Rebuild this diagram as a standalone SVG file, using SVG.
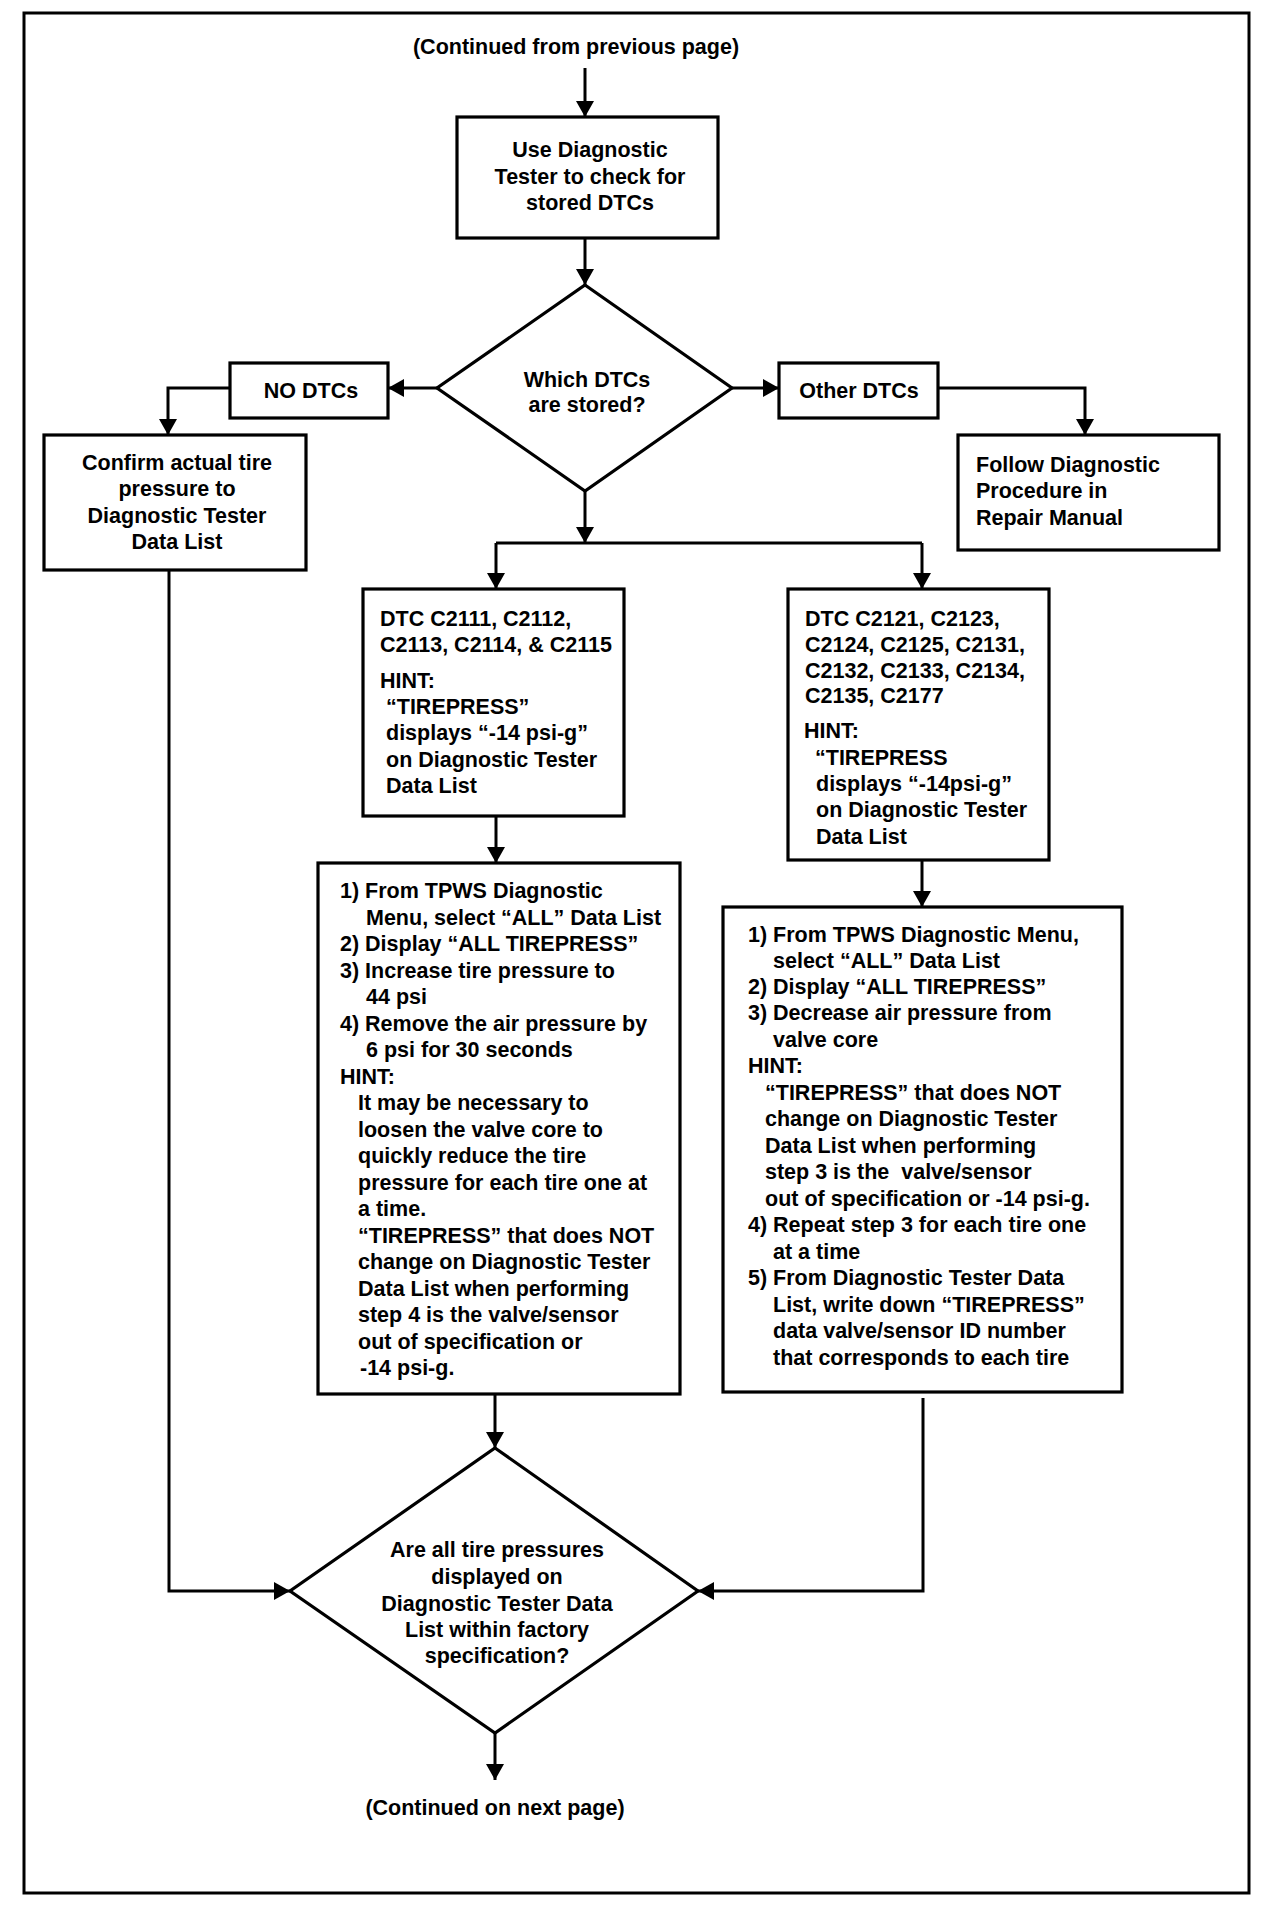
<svg xmlns="http://www.w3.org/2000/svg" width="1280" height="1928" viewBox="0 0 1280 1928">
<style>
.t{font-family:"Liberation Sans",Arial,Helvetica,sans-serif;font-weight:bold;font-size:21.5px;fill:#000}
.c{text-anchor:middle}
.box{fill:#fff;stroke:#000;stroke-width:3.2}
.ln{fill:none;stroke:#000;stroke-width:3}
.ar{fill:none;stroke:#000;stroke-width:3;marker-end:url(#ah)}
</style>
<defs>
<marker id="ah" markerUnits="userSpaceOnUse" markerWidth="16" markerHeight="18" viewBox="0 0 16 18" refX="16" refY="9" orient="auto">
<path d="M0,0 L16,9 L0,18 z" fill="#000"/>
</marker>
</defs>
<rect x="0" y="0" width="1280" height="1928" fill="#fff"/>
<rect id="frame" x="24" y="13" width="1225" height="1880" fill="none" stroke="#000" stroke-width="3"/>

<g id="connectors">
<path class="ar" d="M585,68 L585,117"/>
<path class="ar" d="M585,238 L585,285"/>
<path class="ar" d="M437,388 L388,388"/>
<path class="ar" d="M230,388 L168,388 L168,435"/>
<path class="ar" d="M732,388 L779,388"/>
<path class="ar" d="M938,388 L1085,388 L1085,435"/>
<path class="ar" d="M585,491 L585,543"/>
<path class="ln" d="M496,543 L922,543"/>
<path class="ar" d="M496,543 L496,589"/>
<path class="ar" d="M922,543 L922,589"/>
<path class="ar" d="M496,816 L496,863"/>
<path class="ar" d="M922,860 L922,907"/>
<path class="ar" d="M495,1394 L495,1448"/>
<path class="ar" d="M169,570 L169,1591 L290,1591"/>
<path class="ar" d="M923,1398 L923,1591 L698,1591"/>
<path class="ar" d="M495,1733 L495,1780"/>
</g>

<g id="start">
<text class="t c" x="576" y="54">(Continued from previous page)</text>
</g>

<g id="check">
<rect class="box" x="457" y="117" width="261" height="121"/>
<text class="t c" x="590" y="157">Use Diagnostic</text>
<text class="t c" x="590" y="184">Tester to check for</text>
<text class="t c" x="590" y="210">stored DTCs</text>
</g>

<g id="which">
<polygon class="box" points="585,285 732,388 585,491 437,388"/>
<text class="t c" x="587" y="387">Which DTCs</text>
<text class="t c" x="587" y="412">are stored?</text>
</g>

<g id="nodtc">
<rect class="box" x="230" y="363" width="158" height="55"/>
<text class="t c" x="311" y="398">NO DTCs</text>
</g>

<g id="otherdtc">
<rect class="box" x="779" y="363" width="159" height="55"/>
<text class="t c" x="859" y="398">Other DTCs</text>
</g>

<g id="confirm">
<rect class="box" x="44" y="435" width="262" height="135"/>
<text class="t c" x="177" y="470">Confirm actual tire</text>
<text class="t c" x="177" y="496">pressure to</text>
<text class="t c" x="177" y="523">Diagnostic Tester</text>
<text class="t c" x="177" y="549">Data List</text>
</g>

<g id="follow">
<rect class="box" x="958" y="435" width="261" height="115"/>
<text class="t" x="976" y="472">Follow Diagnostic</text>
<text class="t" x="976" y="498">Procedure in</text>
<text class="t" x="976" y="525">Repair Manual</text>
</g>

<g id="dtc1">
<rect class="box" x="363" y="589" width="261" height="227"/>
<text class="t" x="380" y="626">DTC C2111, C2112,</text>
<text class="t" x="380" y="652">C2113, C2114, &amp; C2115</text>
<text class="t" x="380" y="688">HINT:</text>
<text class="t" x="386" y="714">“TIREPRESS”</text>
<text class="t" x="386" y="740">displays “-14 psi-g”</text>
<text class="t" x="386" y="767">on Diagnostic Tester</text>
<text class="t" x="386" y="793">Data List</text>
</g>

<g id="dtc2">
<rect class="box" x="788" y="589" width="261" height="271"/>
<text class="t" x="805" y="626">DTC C2121, C2123,</text>
<text class="t" x="805" y="652">C2124, C2125, C2131,</text>
<text class="t" x="805" y="678">C2132, C2133, C2134,</text>
<text class="t" x="805" y="703">C2135, C2177</text>
<text class="t" x="804" y="738">HINT:</text>
<text class="t" x="815" y="765">“TIREPRESS</text>
<text class="t" x="816" y="791">displays “-14psi-g”</text>
<text class="t" x="816" y="817">on Diagnostic Tester</text>
<text class="t" x="816" y="844">Data List</text>
</g>

<g id="steps1">
<rect class="box" x="318" y="863" width="362" height="531"/>
<text class="t" x="340" y="898">1) From TPWS Diagnostic</text>
<text class="t" x="366" y="925">Menu, select “ALL” Data List</text>
<text class="t" x="340" y="951">2) Display “ALL TIREPRESS”</text>
<text class="t" x="340" y="978">3) Increase tire pressure to</text>
<text class="t" x="366" y="1004">44 psi</text>
<text class="t" x="340" y="1031">4) Remove the air pressure by</text>
<text class="t" x="366" y="1057">6 psi for 30 seconds</text>
<text class="t" x="340" y="1084">HINT:</text>
<text class="t" x="358" y="1110">It may be necessary to</text>
<text class="t" x="358" y="1137">loosen the valve core to</text>
<text class="t" x="358" y="1163">quickly reduce the tire</text>
<text class="t" x="358" y="1190">pressure for each tire one at</text>
<text class="t" x="358" y="1216">a time.</text>
<text class="t" x="358" y="1243">“TIREPRESS” that does NOT</text>
<text class="t" x="358" y="1269">change on Diagnostic Tester</text>
<text class="t" x="358" y="1296">Data List when performing</text>
<text class="t" x="358" y="1322">step 4 is the valve/sensor</text>
<text class="t" x="358" y="1349">out of specification or</text>
<text class="t" x="360" y="1375">-14 psi-g.</text>
</g>

<g id="steps2">
<rect class="box" x="723" y="907" width="399" height="485"/>
<text class="t" x="748" y="942">1) From TPWS Diagnostic Menu,</text>
<text class="t" x="773" y="968">select “ALL” Data List</text>
<text class="t" x="748" y="994">2) Display “ALL TIREPRESS”</text>
<text class="t" x="748" y="1020">3) Decrease air pressure from</text>
<text class="t" x="773" y="1047">valve core</text>
<text class="t" x="748" y="1073">HINT:</text>
<text class="t" x="765" y="1100">“TIREPRESS” that does NOT</text>
<text class="t" x="765" y="1126">change on Diagnostic Tester</text>
<text class="t" x="765" y="1153">Data List when performing</text>
<text class="t" x="765" y="1179" xml:space="preserve">step 3 is the  valve/sensor</text>
<text class="t" x="765" y="1206">out of specification or -14 psi-g.</text>
<text class="t" x="748" y="1232">4) Repeat step 3 for each tire one</text>
<text class="t" x="773" y="1259">at a time</text>
<text class="t" x="748" y="1285">5) From Diagnostic Tester Data</text>
<text class="t" x="773" y="1312">List, write down “TIREPRESS”</text>
<text class="t" x="773" y="1338">data valve/sensor ID number</text>
<text class="t" x="773" y="1365">that corresponds to each tire</text>
</g>

<g id="within">
<polygon class="box" points="495,1448 698,1591 495,1733 290,1591"/>
<text class="t c" x="497" y="1557">Are all tire pressures</text>
<text class="t c" x="497" y="1584">displayed on</text>
<text class="t c" x="497" y="1611">Diagnostic Tester Data</text>
<text class="t c" x="497" y="1637">List within factory</text>
<text class="t c" x="497" y="1663">specification?</text>
</g>

<g id="end">
<text class="t c" x="495" y="1815">(Continued on next page)</text>
</g>
</svg>
